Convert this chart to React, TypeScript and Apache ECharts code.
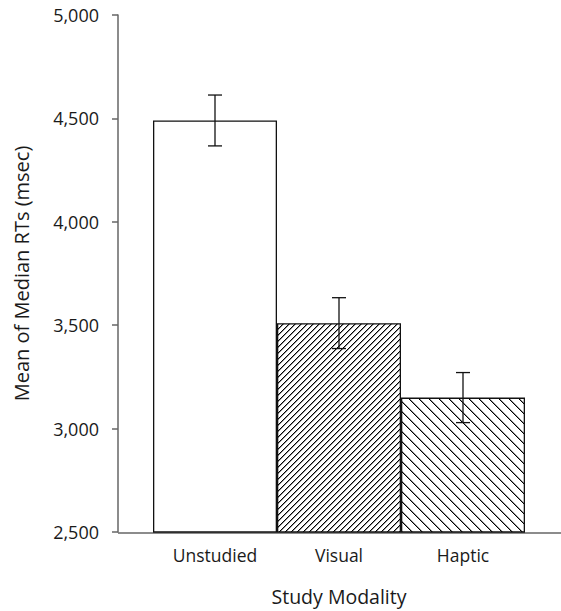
import React, { useEffect, useRef } from "react";
import * as echarts from "echarts";

const categories = ["Unstudied", "Visual", "Haptic"];
const means = [4490, 3510, 3150];
const errors = [123, 123, 121];
const yTicks = { min: 2500, max: 5000, interval: 500 };

function hatchTile(period: number, dir: "up" | "down"): string {
  const c = document.createElement("canvas");
  c.width = period;
  c.height = period;
  const ctx = c.getContext("2d")!;
  const img = ctx.createImageData(period, period);
  for (let y = 0; y < period; y++) {
    for (let x = 0; x < period; x++) {
      const d = dir === "up" ? (x + y) % period : (x - y + period * 100) % period;
      let a = 0;
      if (d === 0) a = 255;
      else if (d === 1) a = 110;
      const i = (y * period + x) * 4;
      img.data[i] = 0;
      img.data[i + 1] = 0;
      img.data[i + 2] = 0;
      img.data[i + 3] = a;
    }
  }
  ctx.fillStyle = "#fff";
  ctx.fillRect(0, 0, period, period);
  const tmp = document.createElement("canvas");
  tmp.width = period;
  tmp.height = period;
  tmp.getContext("2d")!.putImageData(img, 0, 0);
  ctx.drawImage(tmp, 0, 0);
  return c.toDataURL();
}

export default function App() {
  const ref = useRef<HTMLDivElement>(null);
  useEffect(() => {
    document.body.style.margin = "0";
    if (!ref.current) return;
    const chart = echarts.init(ref.current, null, { renderer: "svg" });
    const fills: any[] = [
      "#ffffff",
      { image: hatchTile(6, "up"), repeat: "repeat" },
      { image: hatchTile(10, "down"), repeat: "repeat" },
    ];
    const font = "'Open Sans', sans-serif";
    const textColor = "#1a1a1a";
    chart.setOption({
      animation: false,
      grid: { left: 153, right: 36, top: 15, bottom: 78 },
      graphic: [
        {
          type: "line",
          shape: { x1: 118, y1: 533, x2: 561, y2: 533 },
          style: { stroke: "#666", lineWidth: 1.5 },
          z: 0,
        },
      ],
      xAxis: {
        type: "category",
        data: categories,
        axisLine: { show: false },
        axisTick: { show: false },
        axisLabel: { color: textColor, fontSize: 17.5, fontFamily: font, margin: 14 },
        name: "Study Modality",
        nameLocation: "middle",
        nameGap: 54,
        nameTextStyle: { color: textColor, fontSize: 19.5, fontFamily: font },
      },
      yAxis: {
        type: "value",
        min: yTicks.min,
        max: yTicks.max,
        interval: yTicks.interval,
        offset: 35,
        axisLine: { show: true, lineStyle: { color: "#666", width: 1.5 } },
        axisTick: { show: true, length: 6, lineStyle: { color: "#666", width: 1.5 } },
        splitLine: { show: false },
        axisLabel: {
          color: textColor,
          fontSize: 18,
          fontFamily: font,
          margin: 19,
          formatter: (v: number) => v.toLocaleString("en-US"),
        },
        name: "Mean of Median RTs (msec)",
        nameLocation: "middle",
        nameGap: 87,
        nameTextStyle: { color: textColor, fontSize: 20, fontFamily: font },
      },
      series: [
        {
          type: "bar",
          barWidth: "100%",
          barCategoryGap: 0,
          data: means.map((v, i) => ({
            value: v,
            itemStyle: { color: fills[i], borderColor: "#111", borderWidth: 1.3 },
          })),
          z: 2,
        },
        {
          type: "custom",
          z: 5,
          data: means.map((v, i) => [i, v - errors[i], v + errors[i]]),
          renderItem: (params: any, api: any) => {
            const x = api.value(0);
            const lo = api.coord([x, api.value(1)]);
            const hi = api.coord([x, api.value(2)]);
            const cap = 7;
            const style = { stroke: "#111", lineWidth: 1.3 };
            return {
              type: "group",
              children: [
                { type: "line", shape: { x1: lo[0], y1: lo[1], x2: hi[0], y2: hi[1] }, style },
                { type: "line", shape: { x1: hi[0] - cap, y1: hi[1], x2: hi[0] + cap, y2: hi[1] }, style },
                { type: "line", shape: { x1: lo[0] - cap, y1: lo[1], x2: lo[0] + cap, y2: lo[1] }, style },
              ],
            };
          },
        },
      ],
    });
    return () => chart.dispose();
  }, []);
  return <div ref={ref} style={{ width: 561, height: 611 }} />;
}
